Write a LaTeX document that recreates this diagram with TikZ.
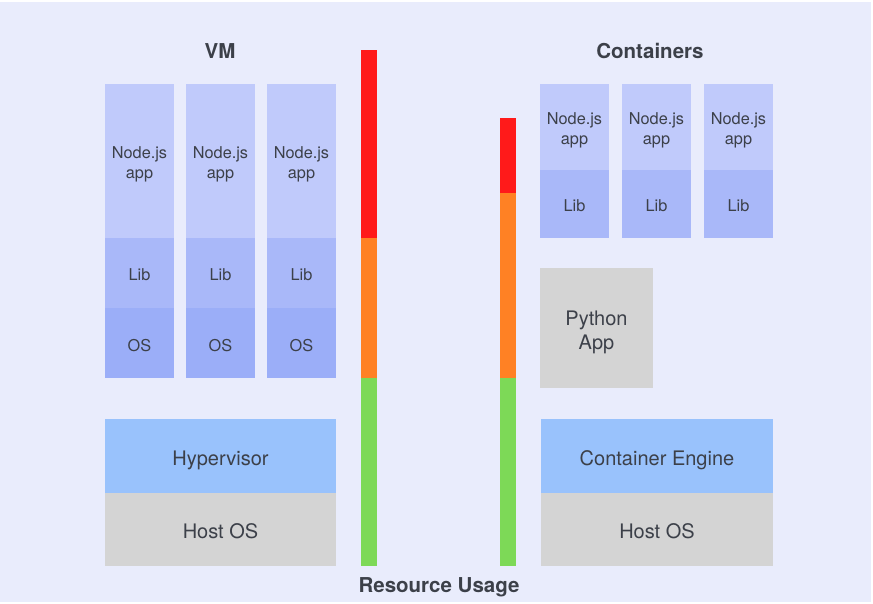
\documentclass[tikz,border=0pt]{standalone}
\usepackage{fontspec}
\setmainfont{TeX Gyre Heros}
\usetikzlibrary{calc}
\definecolor{bgc}{HTML}{E9ECFC}
\definecolor{appc}{HTML}{C0CAFB}
\definecolor{libc}{HTML}{A9B8F9}
\definecolor{osc}{HTML}{9BAEF8}
\definecolor{hypc}{HTML}{99C2FC}
\definecolor{hostc}{HTML}{D4D4D4}
\definecolor{barred}{HTML}{FF1A1A}
\definecolor{barorange}{HTML}{FF8124}
\definecolor{bargreen}{HTML}{7DD957}
\definecolor{txt}{HTML}{3C4049}
\tikzset{
  layer/.style={inner sep=0pt, outer sep=0pt, text=txt, align=center,
    text depth=0pt, yshift=-2pt},
  small/.style={font=\fontsize{16.3}{20}\selectfont},
  big/.style={font=\fontsize{20}{24}\selectfont},
  title/.style={text=txt, font=\fontsize{20.5}{24}\selectfont\bfseries},
}
% a filled block between two corners with centred text
\newcommand{\blockat}[6]{%
  \fill[#1] (#2) rectangle (#3);
  \node[layer,#4] (#5) at ($(#2)!0.5!(#3)$) {#6};}
\begin{document}
\begin{tikzpicture}[x=1pt,y=-1pt]
\fill[white] (0,0) rectangle (873,604);
\fill[bgc] (0,2) rectangle (871,602);
\useasboundingbox (0,0) rectangle (873,604);

% VM side
\node[title] (vm) at (220,51) {VM};
\foreach \x [count=\i] in {105,186,267}{
  \blockat{appc}{\x,84}{\x+69,238}{small}{vmapp\i}{Node.js\\app}
  \blockat{libc}{\x,238}{\x+69,308}{small}{vmlib\i}{Lib}
  \blockat{osc}{\x,308}{\x+69,378}{small}{vmos\i}{OS}
}
\blockat{hypc}{105,419}{336,493}{big}{hyp}{Hypervisor}
\blockat{hostc}{105,493}{336,566}{big}{vmhost}{Host OS}

% Containers side
\node[title] (ct) at (650,51) {Containers};
\foreach \x [count=\i] in {540,622,704}{
  \blockat{appc}{\x,84}{\x+69,170}{small}{ctapp\i}{Node.js\\app}
  \blockat{libc}{\x,170}{\x+69,238}{small}{ctlib\i}{Lib}
}
\blockat{hostc}{540,268}{653,388}{big}{py}{Python\\App}
\blockat{hypc}{541,419}{773,493}{big}{engine}{Container Engine}
\blockat{hostc}{541,493}{773,566}{big}{cthost}{Host OS}

% resource usage bars
\fill[barred]    (361,50)  rectangle (377,238);
\fill[barorange] (361,238) rectangle (377,378);
\fill[bargreen]  (361,378) rectangle (377,566);
\fill[barred]    (500,118) rectangle (516,193);
\fill[barorange] (500,193) rectangle (516,378);
\fill[bargreen]  (500,378) rectangle (516,566);
\node[title] (usage) at (439,587) {Resource Usage};
\end{tikzpicture}
\end{document}
